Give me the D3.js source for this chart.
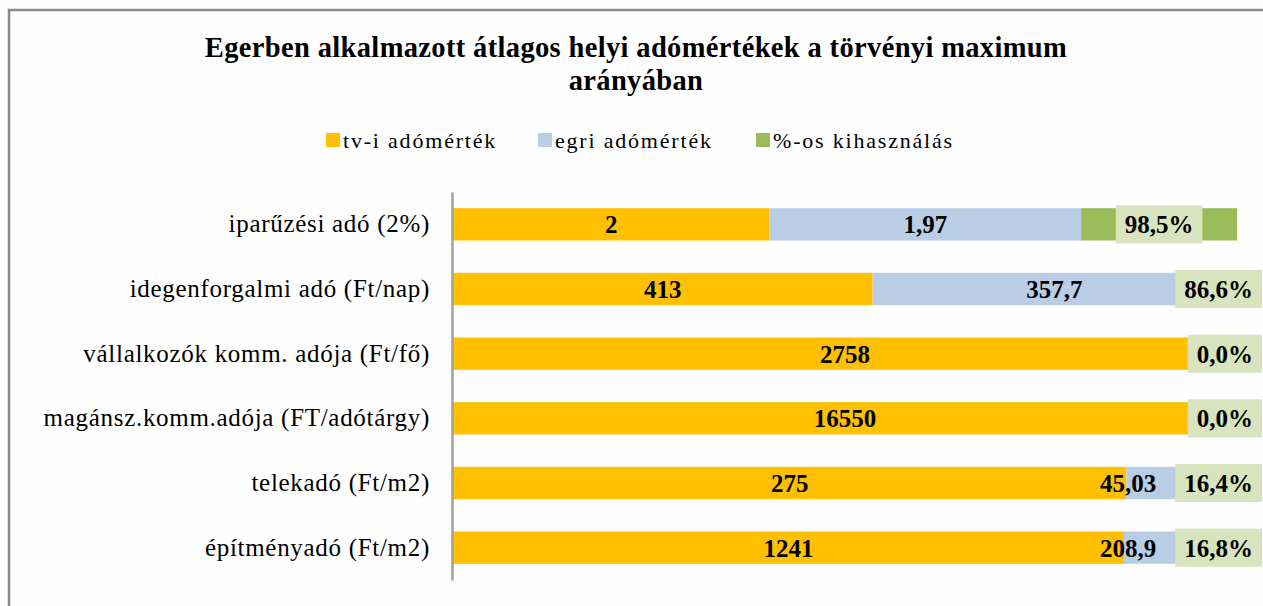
<!DOCTYPE html>
<html>
<head>
<meta charset="utf-8">
<script src="https://cdn.jsdelivr.net/npm/d3@7"></script>
<style>
  body { margin: 0; background: #fff; }
  svg { display: block; }
  svg text { font-family: "Liberation Serif", "DejaVu Serif", serif; }
</style>
</head>
<body>
<div id="chart"></div>
<script>
// data
const categories = [
  "iparűzési adó (2%)",
  "idegenforgalmi adó (Ft/nap)",
  "vállalkozók komm. adója (Ft/fő)",
  "magánsz.komm.adója (FT/adótárgy)",
  "telekadó (Ft/m2)",
  "építményadó (Ft/m2)"
];
const tvAdomertek = [2, 413, 2758, 16550, 275, 1241];
const egriAdomertek = [1.97, 357.7, null, null, 45.03, 208.9];
const kihasznalas = [98.5, 86.6, 0, 0, 16.4, 16.8];   // percent
const seriesNames = ["tv-i adómérték", "egri adómérték", "%-os kihasználás"];
const titleLines = ["Egerben alkalmazott átlagos helyi adómértékek a törvényi maximum", "arányában"];

const width = 1263, height = 606;
const colors = ["#ffc000", "#b9cde5", "#9bbb59"];
const boxFill = "#d7e4bd";
const serif = "Liberation Serif";

let svg = d3.select("#chart").append("svg")
  .attr("width", width)
  .attr("height", height);

svg.append("rect").attr("width", width).attr("height", height).attr("fill", "#fefefe");

// chart frame (cut off at right/bottom like the screenshot)
svg.append("rect")
  .attr("x", 9).attr("y", 10)
  .attr("width", 1400).attr("height", 800)
  .attr("fill", "none")
  .attr("stroke", "#8a8a8a")
  .attr("stroke-width", 2.5);

// title
svg.append("g").selectAll("text")
  .data(titleLines)
  .enter().append("text")
  .attr("x", 636)
  .attr("y", (d, i) => 57 + i * 33)
  .attr("text-anchor", "middle")
  .attr("font-family", serif)
  .attr("font-weight", "bold")
  .attr("font-size", 28.5)
  .attr("letter-spacing", 0.35)
  .text(d => d);

// legend
let legendX = [326, 538, 756];
let legend = svg.append("g").attr("class", "legend");
seriesNames.forEach((name, i) => {
  legend.append("rect")
    .attr("x", legendX[i]).attr("y", 133)
    .attr("width", 14).attr("height", 14)
    .attr("fill", colors[i]);
  legend.append("text")
    .attr("x", legendX[i] + 17).attr("y", 148)
    .attr("font-family", serif)
    .attr("font-size", 22)
    .attr("letter-spacing", 1.8)
    .text(name);
});

// stack each row to 100%
let rows = categories.map((c, i) => {
  let vals = [tvAdomertek[i], egriAdomertek[i] || 0, kihasznalas[i] / 100];
  let total = d3.sum(vals);
  let x0 = 0;
  let segs = vals.map((v, k) => {
    let s = { key: k, start: x0 / total, end: (x0 + v) / total };
    x0 += v;
    return s;
  });
  return { cat: c, i: i, segs: segs };
});

let xScale = d3.scaleLinear().domain([0, 1]).range([453, 1237]);
let yScale = d3.scaleBand().domain(categories).range([192, 580])
  .paddingInner(0.5).paddingOuter(0.25);

// bars
let rowG = svg.append("g").selectAll("g")
  .data(rows)
  .enter().append("g");

rowG.selectAll("rect")
  .data(d => d.segs.map(s => Object.assign({ cat: d.cat }, s)))
  .enter().append("rect")
  .attr("x", d => xScale(d.start))
  .attr("y", d => yScale(d.cat))
  .attr("width", d => Math.max(0, xScale(d.end) - xScale(d.start)))
  .attr("height", yScale.bandwidth())
  .attr("fill", d => colors[d.key]);

// y axis
let yAxis = svg.append("g")
  .attr("transform", "translate(452,0)")
  .call(d3.axisLeft(yScale).tickSize(0).tickPadding(22));
yAxis.attr("font-family", serif);
yAxis.select(".domain").attr("stroke", "#a0a0a0").attr("stroke-width", 2.5);
yAxis.selectAll("text")
  .attr("font-family", serif)
  .attr("font-size", 25)
  .attr("letter-spacing", 0.7)
  .attr("fill", "#000")
  .attr("dy", "0.32em");

// data labels
const fmt = v => String(v).replace(".", ",");
const rightLimit = 1262;
let labels = svg.append("g")
  .attr("font-family", serif)
  .attr("font-weight", "bold")
  .attr("font-size", 25);

rows.forEach(r => {
  let cy = yScale(r.cat) + yScale.bandwidth() / 2;
  let s0 = r.segs[0], s1 = r.segs[1], s2 = r.segs[2];

  // percentage label with box
  let pctText = labels.append("text")
    .attr("text-anchor", "middle")
    .attr("y", cy + 9)
    .text(kihasznalas[r.i].toFixed(1).replace(".", ",") + "%");
  let w = pctText.node().getComputedTextLength() + 18;
  let cx2 = Math.min((xScale(s2.start) + xScale(s2.end)) / 2, rightLimit - w / 2);
  let boxLeft = cx2 - w / 2;
  labels.insert("rect", "text")
    .attr("x", boxLeft).attr("y", cy - 19)
    .attr("width", w).attr("height", 38)
    .attr("fill", boxFill);
  pctText.attr("x", cx2);

  // orange label
  labels.append("text")
    .attr("text-anchor", "middle")
    .attr("x", (xScale(s0.start) + xScale(s0.end)) / 2)
    .attr("y", cy + 9)
    .text(fmt(tvAdomertek[r.i]));

  // blue label (pushed left if it would run into the % box)
  if (egriAdomertek[r.i] != null) {
    let t = labels.append("text")
      .attr("text-anchor", "middle")
      .attr("y", cy + 9)
      .text(fmt(egriAdomertek[r.i]));
    let tw = t.node().getComputedTextLength();
    let cx1 = (xScale(s1.start) + xScale(s1.end)) / 2;
    if (cx1 + tw / 2 > boxLeft - 19) cx1 = boxLeft - 19 - tw / 2;
    t.attr("x", cx1);
  }
});
</script>
</body>
</html>
